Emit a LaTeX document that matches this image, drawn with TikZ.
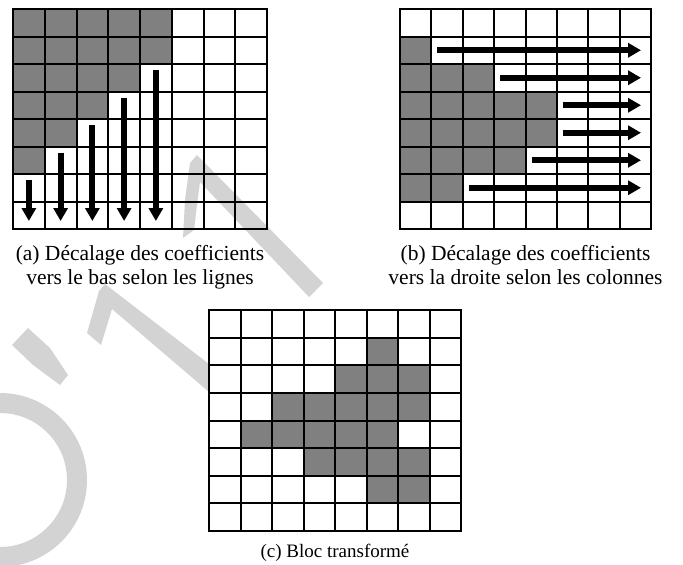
\documentclass[tikz,border=0pt]{standalone}
\usepackage{fontspec}
\setmainfont{Liberation Serif}
\usetikzlibrary{arrows.meta}
\definecolor{wm}{RGB}{211,211,211}
\definecolor{cellgray}{RGB}{128,128,128}
\begin{document}
\begin{tikzpicture}[x=1pt,y=-1pt,
  gridline/.style={line width=2pt},
  border/.style={line width=2.4pt},
  shaded/.style={fill=cellgray},
  wmark/.style={fill=wm},
  bigarrow/.style={line width=6pt,-{Triangle[length=13pt,width=14pt]}},
  caption/.style={font=\fontsize{21.5}{25}\selectfont,anchor=base,inner sep=0pt},
  captionc/.style={font=\fontsize{19}{23}\selectfont,anchor=base,inner sep=0pt}]
\useasboundingbox (0,0) rectangle (683,565);
% watermark
\draw[wm,line width=20pt] (0,480) circle[radius=77pt];
\fill[wmark] (12,345) -- (28,328) -- (50,348) -- (68,375) -- (60,385) -- (33,365) -- cycle;
\fill[wmark] (190,163) -- (197,155) -- (323,283) -- (309,297) -- (200,182) -- (197,205) -- (194,230) -- (183,238) -- (185,200) -- cycle;
\fill[wmark] (99,291) -- (105,284) -- (209,364) -- (209,392) -- (112,309) -- (101,345) -- (87,333) -- cycle;
% grid a
\foreach \r/\n in {0/4,1/4,2/3,3/2,4/1,5/0}
  \foreach \c in {0,...,\n}
    \fill[shaded] (13+\c*31.75,9+\r*27.5) rectangle ++(31.75,27.5);
\foreach \i in {1,...,7}{
  \draw[gridline] (13+\i*31.75,9) -- ++(0,220);
  \draw[gridline] (13,9+\i*27.5) -- ++(254,0);}
\draw[border] (13,9) rectangle ++(254,220);
\foreach \c/\r in {0/6,1/5,2/4,3/3,4/2}
  \draw[bigarrow] (13+\c*31.75+15.875,9+\r*27.5+6) -- (13+\c*31.75+15.875,221);
% grid b
\foreach \r/\n in {1/0,2/2,3/4,4/4,5/3,6/1}
  \foreach \c in {0,...,\n}
    \fill[shaded] (400+\c*31.375,9+\r*27.5) rectangle ++(31.375,27.5);
\foreach \i in {1,...,7}{
  \draw[gridline] (400+\i*31.375,9) -- ++(0,220);
  \draw[gridline] (400,9+\i*27.5) -- ++(251,0);}
\draw[border] (400,9) rectangle ++(251,220);
\foreach \r/\c in {1/1,2/3,3/5,4/5,5/4,6/2}
  \draw[bigarrow] (400+\c*31.375+6,9+\r*27.5+13.75) -- (641,9+\r*27.5+13.75);
% grid c
\foreach \r/\a/\b in {1/5/5,2/4/6,3/2/6,4/1/5,5/3/6,6/5/6}
  \foreach \c in {\a,...,\b}
    \fill[shaded] (209+\c*31.5,310+\r*27.625) rectangle ++(31.5,27.625);
\foreach \i in {1,...,7}{
  \draw[gridline] (209+\i*31.5,310) -- ++(0,221);
  \draw[gridline] (209,310+\i*27.625) -- ++(252,0);}
\draw[border] (209,310) rectangle ++(252,221);
% captions
\node[caption] (capa1) at (140,260) {(a) Décalage des coefficients};
\node[caption] (capa2) at (140,284.5) {vers le bas selon les lignes};
\node[caption] (capb1) at (525.5,260) {(b) Décalage des coefficients};
\node[caption] (capb2) at (525.5,284.5) {vers la droite selon les colonnes};
\node[captionc] (capc) at (335,557) {(c) Bloc transformé};
\end{tikzpicture}
\end{document}
